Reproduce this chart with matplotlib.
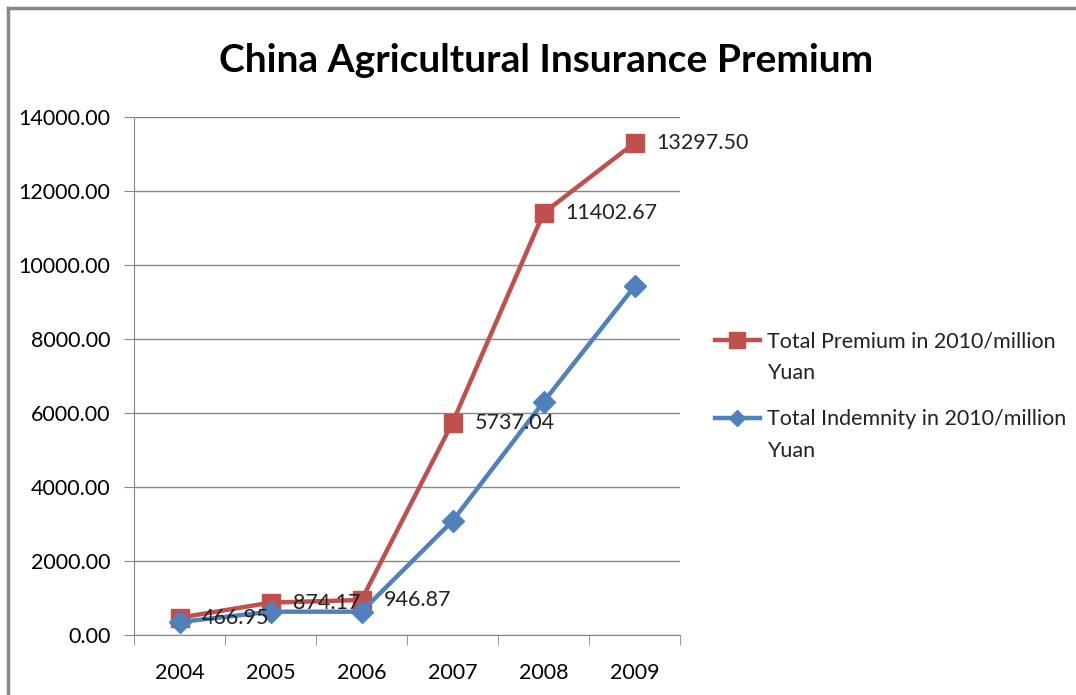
import numpy as np
import matplotlib
matplotlib.use("Agg")
import matplotlib.pyplot as plt
from matplotlib.lines import Line2D

plt.rcParams['font.family'] = ['Liberation Sans Narrow', 'Lato', 'DejaVu Sans']

years = ["2004", "2005", "2006", "2007", "2008", "2009"]
premium = [466.95, 874.17, 946.87, 5737.04, 11402.67, 13297.50]
indemnity = [350, 630, 630, 3080, 6300, 9420]
premium_name = "Total Premium in 2010/million\nYuan"
indemnity_name = "Total Indemnity in 2010/million\nYuan"

RED = "#c0504d"
BLUE = "#4f81bd"
GRID = "#868686"

fig = plt.figure(figsize=(10.76, 6.95), dpi=100)
ax = fig.add_axes([134 / 1076, 1 - 635 / 695, 546 / 1076, 518 / 695])

x = np.arange(len(years))
ax.plot(x, premium, color=RED, lw=3.2, marker="s", ms=13, zorder=3)
ax.plot(x, indemnity, color=BLUE, lw=3.2, marker="D", ms=11, zorder=4)
for xi, v in zip(x, premium):
    ax.annotate(f"{v:.2f}", (xi, v), xytext=(16, 0), textcoords="offset points",
                va="center", ha="left", fontsize=15.5, color="#222222", zorder=5)

ax.set_xlim(-0.5, len(years) - 0.5)
ax.set_ylim(0, 14000)
ax.set_yticks(np.arange(0, 14001, 2000))
ax.set_yticklabels([f"{v:.2f}" for v in np.arange(0, 14001, 2000)], fontsize=15.5)
ax.set_xticks(x)
ax.set_xticklabels(years, fontsize=15.5)
ax.set_xticks(np.arange(-0.5, len(years)), minor=True)
ax.tick_params(axis="x", which="major", length=0, pad=20)
ax.tick_params(axis="x", which="minor", length=7, color=GRID, direction="out")
ax.tick_params(axis="y", length=7, color=GRID, direction="out", pad=10)
ax.yaxis.grid(True, color=GRID, lw=1)
ax.set_axisbelow(True)
for s in ["top", "right"]:
    ax.spines[s].set_visible(False)
for s in ["left", "bottom"]:
    ax.spines[s].set_color(GRID)

fig.text(546 / 1076, 1 - 60 / 695, "China Agricultural Insurance Premium",
         ha="center", va="center", fontsize=28, fontweight="bold")

# legend drawn by hand so the marker sits on the first text line
W, H = 1076, 695
for name, col, mk, ms, y in [(premium_name, RED, "s", 11, 340), (indemnity_name, BLUE, "D", 8, 418)]:
    fig.add_artist(Line2D([715 / W, 760 / W], [1 - y / H] * 2, color=col, lw=3.2))
    fig.add_artist(Line2D([737.5 / W], [1 - y / H], color=col, marker=mk, ms=ms, lw=0))
    fig.text(767 / W, 1 - (y - 9) / H, name, ha="left", va="top", fontsize=15.5,
             linespacing=1.75, color="#222222")

# chart border (top and left visible)
fig.add_artist(Line2D([8 / W, 1], [1 - 8 / H, 1 - 8 / H], color="#888888", lw=2.5))
fig.add_artist(Line2D([8 / W, 8 / W], [0, 1 - 8 / H], color="#888888", lw=2.5))

fig.savefig("out.png", dpi=100)
